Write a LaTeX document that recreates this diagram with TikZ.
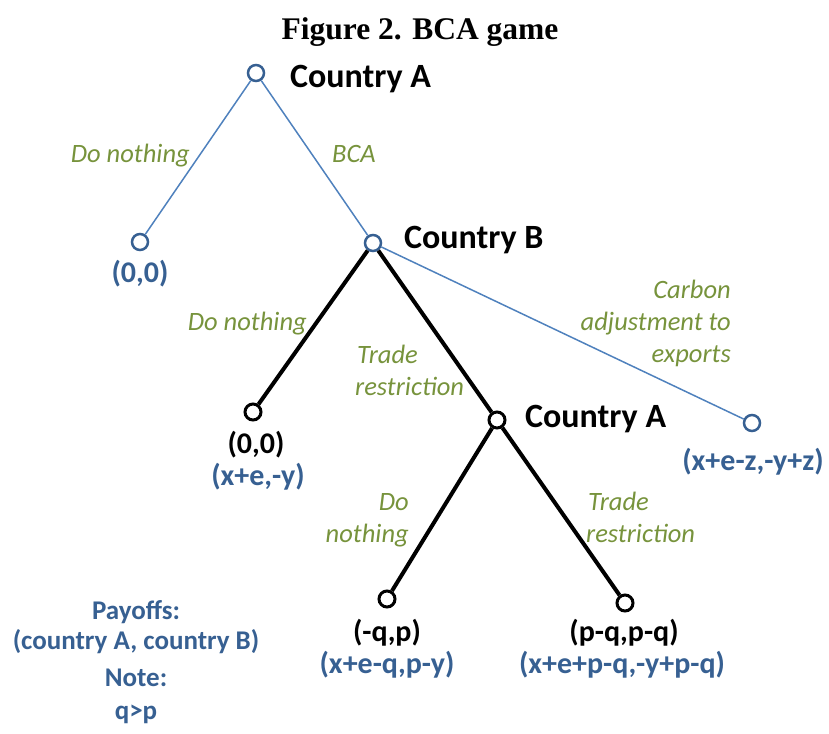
\documentclass[tikz,border=0pt]{standalone}
\usepackage{fontspec}
\setmainfont{Liberation Serif}
\newfontfamily\calfont{Carlito}
\definecolor{tblue}{HTML}{376092}
\definecolor{lblue}{HTML}{4F81BD}
\definecolor{olivegr}{HTML}{77933C}
\begin{document}
\begin{tikzpicture}[x=1pt,y=-1pt,
 bnode/.style={circle,draw=tblue,fill=white,line width=2.5pt,minimum size=16pt,inner sep=0pt},
 knode/.style={circle,draw=black,fill=white,line width=3pt,minimum size=16pt,inner sep=0pt},
 edgeblue/.style={draw=lblue,line width=1.5pt},
 edgeblack/.style={draw=black,line width=4pt},
 player/.style={font=\calfont\bfseries\fontsize{34}{40}\selectfont,inner sep=0pt,anchor=base west},
 act/.style={font=\calfont\itshape\fontsize{26.5}{32}\selectfont,text=olivegr,inner sep=0pt},
 actl/.style={act,anchor=base west},
 actr/.style={act,anchor=base east},
 pay/.style={font=\calfont\bfseries\fontsize{30}{34}\selectfont,text=tblue,inner sep=0pt,anchor=base},
 payk/.style={pay,text=black},
 legend/.style={pay,font=\calfont\bfseries\fontsize{27}{32}\selectfont}]
\useasboundingbox (0,0) rectangle (829,733);
% title
\node[font=\bfseries\fontsize{31.5}{36}\selectfont,inner sep=0pt,anchor=base] (title) at (420,40) {Figure 2. BCA game};
% decision and terminal nodes
\node[bnode] (rootA) at (256,73) {};
\node[bnode] (leafone) at (140,242) {};
\node[bnode] (nB) at (373,243) {};
\node[knode] (leaftwo) at (253,412) {};
\node[knode] (nAtwo) at (497,420) {};
\node[bnode] (leafC) at (752,423) {};
\node[knode] (leafthree) at (387,599) {};
\node[knode] (leaffour) at (625,603) {};
% connectors
\draw[edgeblue] (rootA) -- (leafone);
\draw[edgeblue] (rootA) -- (nB);
\draw[edgeblue] (nB) -- (leafC);
\draw[edgeblack] (nB) -- (leaftwo);
\draw[edgeblack] (nB) -- (nAtwo);
\draw[edgeblack] (nAtwo) -- (leafthree);
\draw[edgeblack] (nAtwo) -- (leaffour);
% player labels
\node[player] (plA) at (290,88) {Country A};
\node[player] (plB) at (404,248) {Country B};
\node[player] (plAtwo) at (525,427) {Country A};
% action labels
\node[actr] (aDN1) at (190,162) {Do nothing};
\node[actl] (aBCA) at (332,162) {BCA};
\node[actr] (aDN2) at (307,330) {Do nothing};
\node[actl] (aTR1a) at (357,363) {Trade};
\node[actl] (aTR1b) at (355,395) {restriction};
\node[actr] (aCA1) at (731,298) {Carbon};
\node[actr] (aCA2) at (731,330) {adjustment to};
\node[actr] (aCA3) at (731,362) {exports};
\node[actr] (aDN3a) at (409,510) {Do};
\node[actr] (aDN3b) at (409,542) {nothing};
\node[actl] (aTR2a) at (588,510) {Trade};
\node[actl] (aTR2b) at (586,542) {restriction};
% payoffs
\node[pay] (p1) at (140,282) {(0,0)};
\node[payk] (p2a) at (256,453) {(0,0)};
\node[pay] (p2b) at (258,485) {(x+e,-y)};
\node[pay] (p3) at (753,470) {(x+e-z,-y+z)};
\node[payk] (p4a) at (387,641) {(-q,p)};
\node[pay] (p4b) at (387,673) {(x+e-q,p-y)};
\node[payk] (p5a) at (624,641) {(p-q,p-q)};
\node[pay] (p5b) at (622,673) {(x+e+p-q,-y+p-q)};
% legend
\node[legend] (lg1) at (136,619) {Payoffs:};
\node[legend] (lg2) at (136,649) {(country A, country B)};
\node[legend] (lg3) at (136,686) {Note:};
\node[legend] (lg4) at (136,719) {q>p};
\end{tikzpicture}
\end{document}
